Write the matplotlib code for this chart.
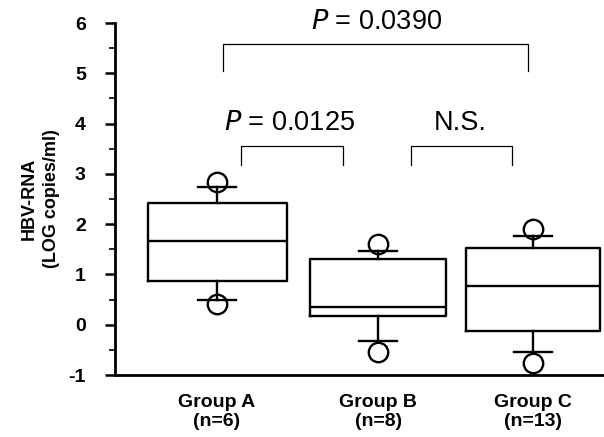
import matplotlib
matplotlib.use("Agg")
import matplotlib.pyplot as plt

groups = ["Group A\n(n=6)", "Group B\n(n=8)", "Group C\n(n=13)"]
q1 = [0.87, 0.18, -0.12]
med = [1.67, 0.36, 0.76]
q3 = [2.43, 1.31, 1.53]
whislo = [0.50, -0.32, -0.54]
whishi = [2.74, 1.47, 1.77]
fliers = [[2.84, 0.42], [1.61, -0.54], [1.91, -0.76]]

comparisons = [
    # (x1, x2, y_top, y_leg, label, label_x, label_y)
    (1.04, 2.97, 5.59, 5.05, "0.0390", 2.01, 6.02),
    (1.15, 1.80, 3.56, 3.18, "0.0125", 1.46, 4.02),
    (2.23, 2.87, 3.56, 3.18, "N.S.", 2.54, 4.02),
]

plt.rcParams['font.family'] = ['Liberation Sans', 'DejaVu Sans']
plt.rcParams['axes.unicode_minus'] = False

fig = plt.figure(figsize=(6.04, 4.37), dpi=100)
ax = fig.add_axes([115/604, 62/437, 1 - 115/604, (375-23)/437])

stats = []
for i in range(3):
    stats.append(dict(med=med[i], q1=q1[i], q3=q3[i], whislo=whislo[i],
                      whishi=whishi[i], fliers=fliers[i], label=groups[i]))

lw = 1.7
ax.bxp(stats, positions=[1, 2.02, 3], widths=[0.88, 0.86, 0.85],
       capwidths=0.24, showfliers=True,
       boxprops=dict(color='black', linewidth=lw),
       medianprops=dict(color='black', linewidth=lw),
       whiskerprops=dict(color='black', linewidth=lw),
       capprops=dict(color='black', linewidth=lw),
       flierprops=dict(marker='o', markerfacecolor='none', markeredgecolor='black',
                       markersize=14, markeredgewidth=1.7))

for x1, x2, yt, yl, lab, lx, ly in comparisons:
    ax.plot([x1, x1, x2, x2], [yl, yt, yt, yl], color='black', linewidth=0.9,
            clip_on=False)
    if lab.startswith("N"):
        txt = lab
    else:
        txt = r"$\it{P}$" + " = " + lab
    ax.text(lx, ly, txt, ha='center', va='center', fontsize=19.5, clip_on=False)

ax.set_xlim(0.354, 3.45)
ax.set_ylim(-1, 6)
ax.set_yticks(range(-1, 7))
ax.set_yticks([v + 0.5 for v in range(-1, 6)], minor=True)
ax.tick_params(axis='y', which='major', length=7, width=1.8, direction='out', pad=14)
ax.tick_params(axis='y', which='minor', length=4, width=1.2, direction='out')
ax.tick_params(axis='x', length=0, pad=14)
for lbl in ax.get_yticklabels():
    lbl.set_fontweight('bold')
    lbl.set_fontsize(14)
for lbl in ax.get_xticklabels():
    lbl.set_fontweight('bold')
    lbl.set_fontsize(14)
    lbl.set_linespacing(1.1)

ax.spines['top'].set_visible(False)
ax.spines['right'].set_visible(False)
ax.spines['left'].set_linewidth(2)
ax.spines['bottom'].set_linewidth(2)

ax.set_ylabel("HBV-RNA\n(LOG copies/ml)", fontsize=13, fontweight='bold',
              labelpad=6, linespacing=1.4)

fig.savefig("out.png", dpi=100)
